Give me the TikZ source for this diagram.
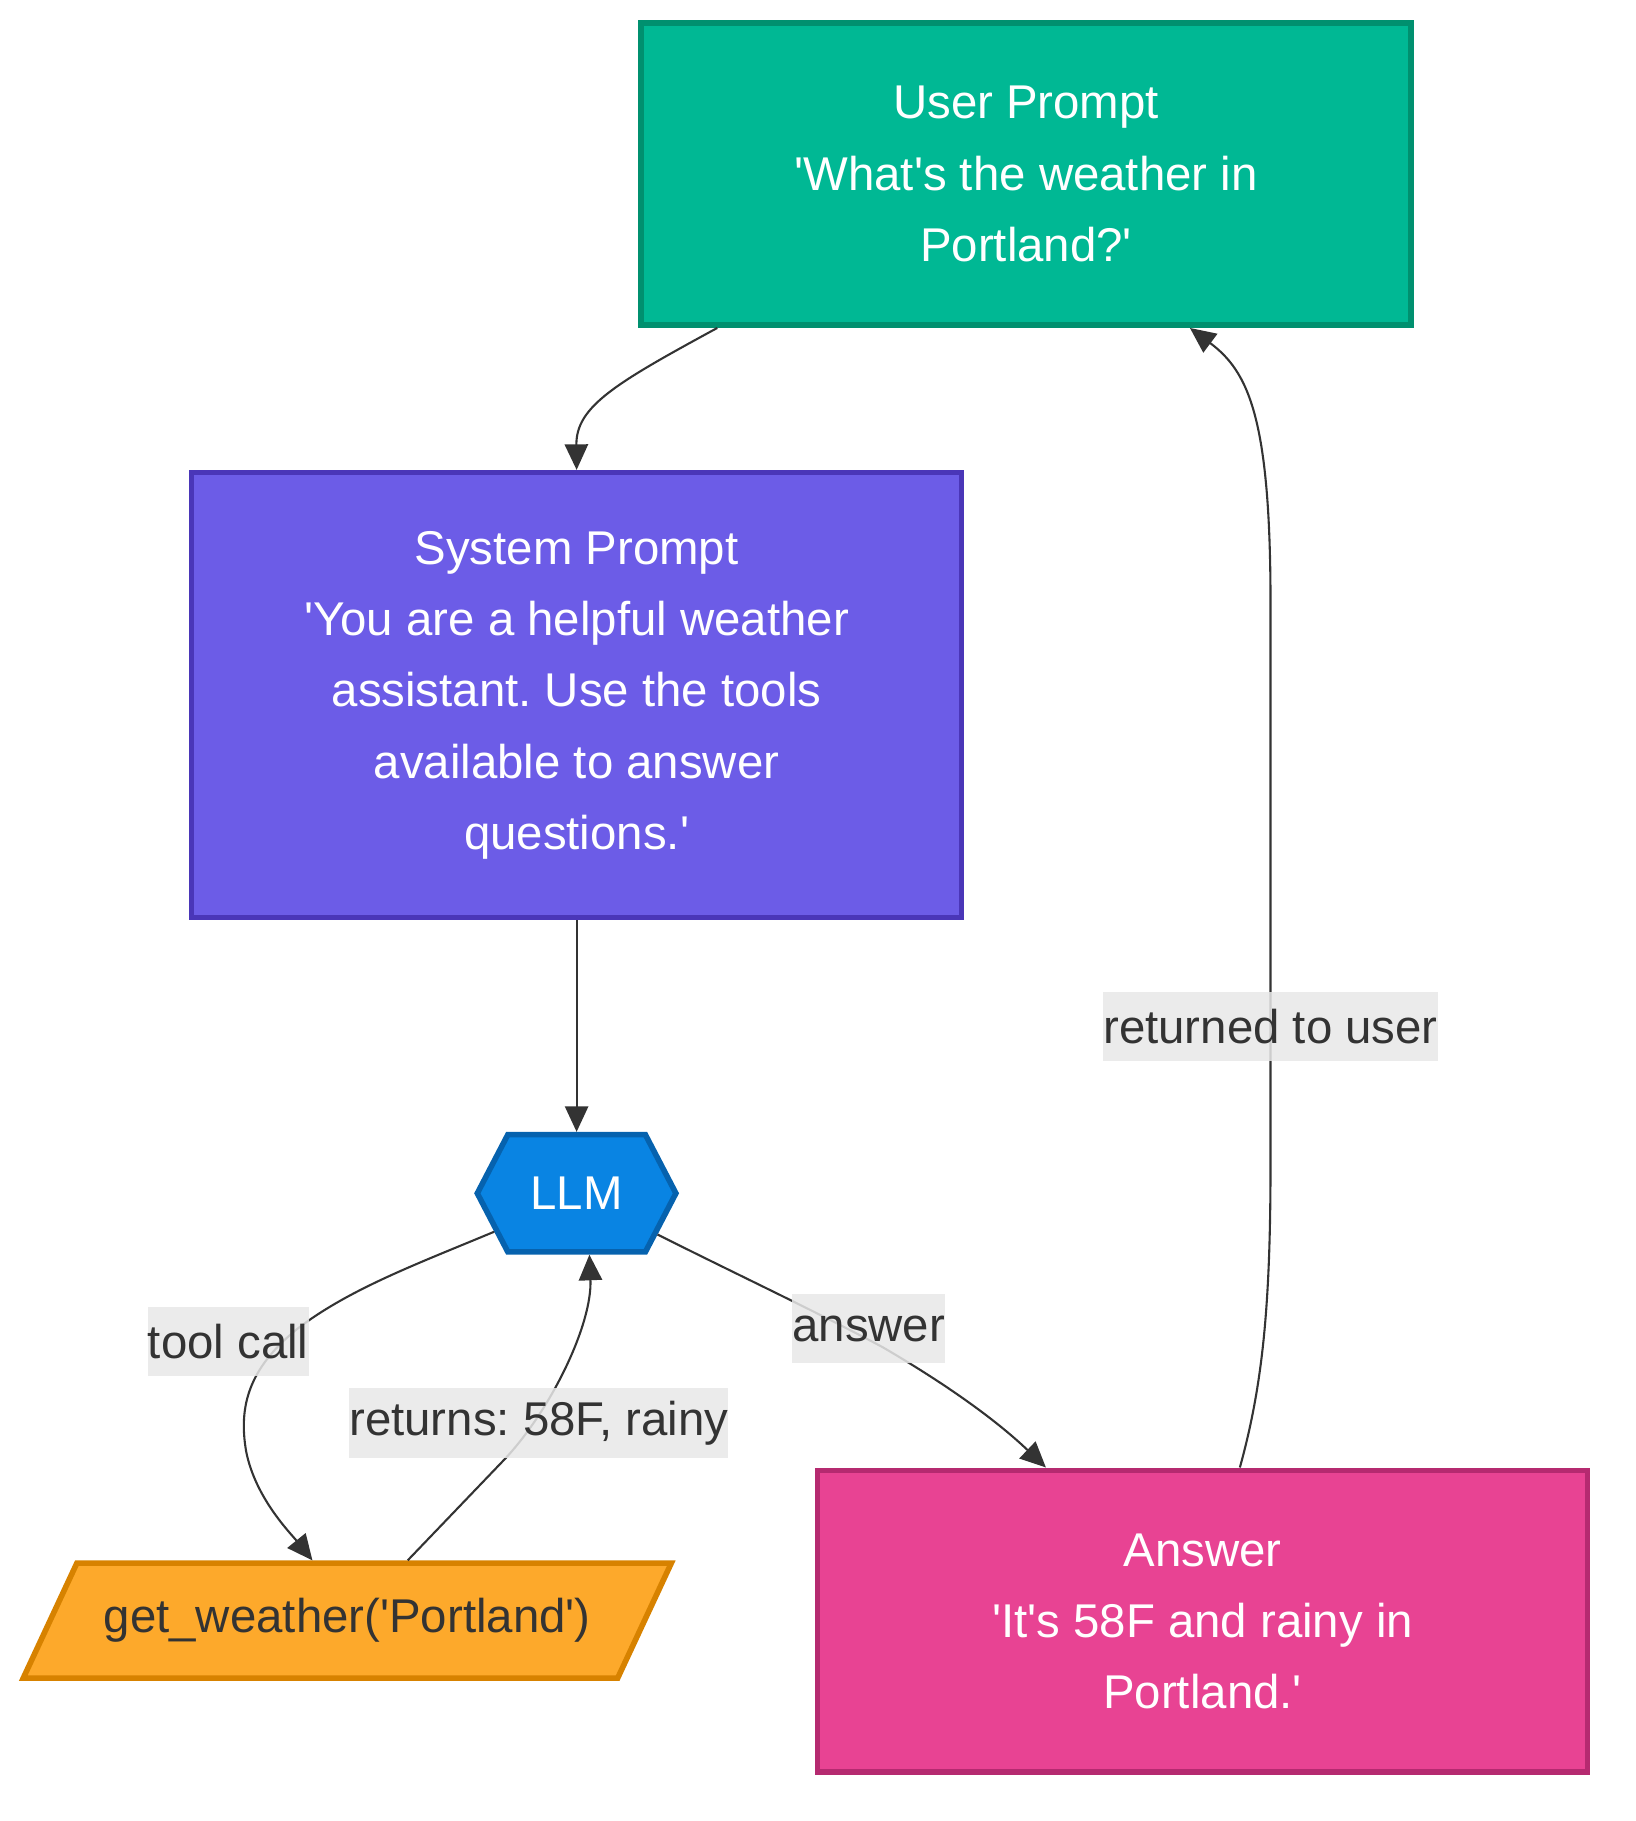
\documentclass[tikz,border=0pt]{standalone}
\usepackage{fontspec}
\setmainfont{Liberation Sans}
\usetikzlibrary{shapes.geometric,shapes.symbols,arrows.meta,calc}
\definecolor{uGreen}{HTML}{00B894}
\definecolor{uGreenD}{HTML}{00906F}
\definecolor{sPurple}{HTML}{6C5CE7}
\definecolor{sPurpleD}{HTML}{4A36B8}
\definecolor{lBlue}{HTML}{0984E3}
\definecolor{lBlueD}{HTML}{0662AE}
\definecolor{tOrange}{HTML}{FDA92B}
\definecolor{tOrangeD}{HTML}{D78200}
\definecolor{aPink}{HTML}{E84393}
\definecolor{aPinkD}{HTML}{B52A70}
\definecolor{eGray}{HTML}{333333}
\definecolor{lGray}{HTML}{E8E8E8}
\newcommand{\sq}{\textquotesingle}
\frenchspacing

\begin{document}
\begin{tikzpicture}[x=0.5pt,y=-0.5pt,>={Triangle[length=11pt,width=10pt]}]
		\tikzstyle{FNT} = [font=\fontsize{20.4}{30.7}\selectfont]
		\tikzstyle{TXT} = [FNT, align=center, inner sep=0pt]
		\tikzstyle{RECT} = [TXT, rectangle, line width=2.4pt, minimum width=331.5pt, text=white]
		\tikzstyle{uprompt} = [RECT, draw=uGreenD, fill=uGreen, minimum height=130pt]
		\tikzstyle{sprompt} = [RECT, draw=sPurpleD, fill=sPurple, minimum height=191.5pt]
		\tikzstyle{reply} = [RECT, draw=aPinkD, fill=aPink, minimum height=130pt]
		\tikzstyle{model} = [TXT, signal, signal to=west and east, signal pointer angle=125, line width=2.4pt, draw=lBlueD, fill=lBlue, text=white, minimum width=85.5pt, minimum height=50.5pt]
		\tikzstyle{tool} = [FNT, trapezium, trapezium left angle=65, trapezium right angle=115, trapezium stretches body, line width=2.4pt, draw=tOrangeD, fill=tOrange, text=eGray, text height=14pt, text depth=3.5pt, inner xsep=0pt, inner ysep=16pt, minimum width=279pt]
		\tikzstyle{flow} = [->, line width=0.9pt, draw=eGray]
		\tikzstyle{lbl} = [TXT, fill=lGray, fill opacity=0.85, text opacity=1, text=eGray, minimum height=30pt]

		\useasboundingbox (0,0) rectangle (1408,1568);

		\node[uprompt] (userPrompt) at (883.5,150) {User Prompt\\\sq What\sq s the weather in\\Portland?\sq};
		\node[sprompt] (sysPrompt) at (496.5,598.5) {System Prompt\\\sq You are a helpful weather\\assistant. Use the tools\\available to answer\\questions.\sq};
		\node[model] (llm) at (496.5,1027.5) {LLM};
		\node[tool] (toolCall) at (299,1395.5) {get\_weather(\sq Portland\sq)};
		\node[reply] (answerBox) at (1035.5,1396) {Answer\\\sq It\sq s 58F and rainy in\\Portland.\sq};

		\draw[flow] ($(userPrompt.south west)+(68,0)$) .. controls (530,330) and (496,350) .. (sysPrompt.north);
		\draw[flow] (sysPrompt.south) -- (llm.north);
		\draw[flow] (llm.205) .. controls (360,1088) and (300,1110) .. (255,1145) .. controls (215,1178) and (205,1210) .. (212,1250) .. controls (220,1290) and (250,1320) .. ($(toolCall.north)+(-30,0)$);
		\draw[flow] ($(toolCall.north)+(52,0)$) -- (435,1256) .. controls (475,1213) and (510,1140) .. ($(llm.south)+(11,0)$);
		\draw[flow] (llm.-27) .. controls (640,1100) and (700,1128) .. (760,1160) .. controls (820,1195) and (860,1225) .. ($(answerBox.north west)+(199,0)$);
		\draw[flow] ($(answerBox.north west)+(366,0)$) .. controls (1088,1190) and (1094,1120) .. (1094,1000) -- (1094,520) .. controls (1094,360) and (1075,320) .. ($(userPrompt.south west)+(475,0)$);

		\node[lbl] (lblTool) at (196.5,1155) {tool call};
		\node[lbl] (lblReturns) at (464,1225.5) {returns: 58F, rainy};
		\node[lbl] (lblAnswer) at (748,1144) {answer};
		\node[lbl] (lblUser) at (1094,884) {returned to user};
\end{tikzpicture}
\end{document}
